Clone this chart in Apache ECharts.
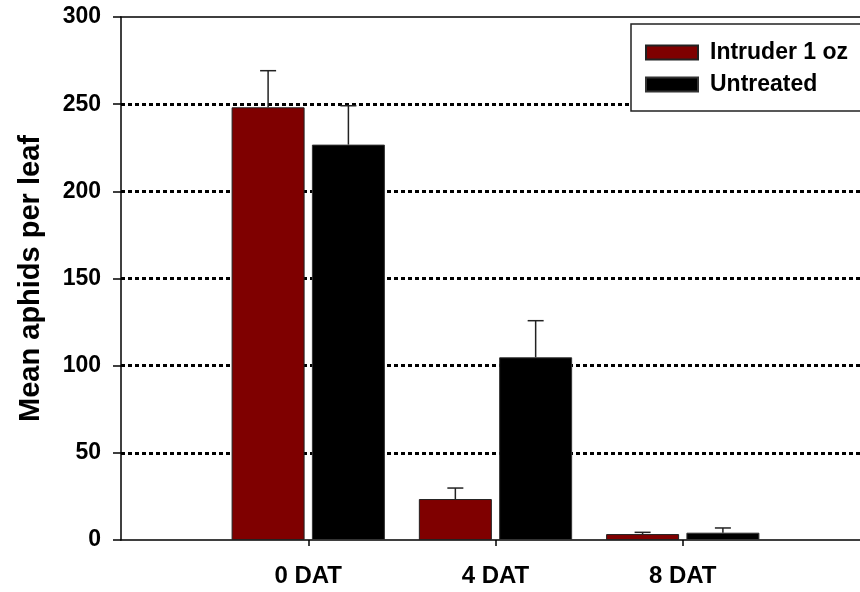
<!DOCTYPE html>
<html>
<head>
<meta charset="utf-8">
<title>Mean aphids per leaf</title>
<script src="https://cdn.jsdelivr.net/npm/echarts@6/dist/echarts.min.js"></script>
<style>
  html, body { margin: 0; padding: 0; background: #fff; }
  #chart { width: 860px; height: 592px; }
</style>
</head>
<body>
<div id="chart"></div>
<script>
// Sampling dates
const categories = ['0 DAT', '4 DAT', '8 DAT'];

// Mean aphids per leaf and the upper standard error for each treatment
const intruderMean = [248.2, 23.5, 3.4];
const intruderErr = [21.0, 6.3, 1.0];
const untreatedMean = [226.8, 104.8, 4.2];
const untreatedErr = [22.3, 21.0, 2.7];

const seriesNames = ['Intruder 1 oz', 'Untreated'];
const yTickValues = [0, 50, 100, 150, 200, 250, 300];

const FONT = "'Liberation Sans', Arial, Helvetica, sans-serif";
const BAR_WIDTH = 73;
const BAR_GAP_RATIO = 0.1;
const RED = '#7f0000';

// Empty slots at both ends keep the dates away from the axis ends
const axisCategories = [''].concat(categories, ['']);
const padSeries = arr => ['-'].concat(arr, ['-']);

// Error-bar rows: [axis index, mean, mean + error]
const errRows = (mean, err) => mean.map((m, i) => [i + 1, m, m + err[i]]);

const halfStep = (BAR_WIDTH + BAR_WIDTH * BAR_GAP_RATIO) / 2;

function errorBarRenderer(offset) {
  return function (params, api) {
    const base = api.coord([api.value(0), api.value(1)]);
    const top = api.coord([api.value(0), api.value(2)]);
    const x = base[0] + offset;
    const style = { stroke: '#222', lineWidth: 1.5 };
    return {
      type: 'group',
      children: [
        { type: 'line', shape: { x1: x, y1: base[1], x2: x, y2: top[1] }, style: style },
        { type: 'line', shape: { x1: x - 8, y1: top[1], x2: x + 8, y2: top[1] }, style: style }
      ]
    };
  };
}

const chart = echarts.init(document.getElementById('chart'), null, { renderer: 'canvas' });

chart.setOption({
  animation: false,
  backgroundColor: '#fff',
  textStyle: { fontFamily: FONT },
  grid: {
    left: 121, top: 17, right: -10, bottom: 52,
    containLabel: false,
    outerBoundsMode: 'none'
  },
  legend: {
    data: seriesNames,
    left: 631,
    top: 24,
    orient: 'vertical',
    icon: 'rect',
    itemWidth: 52,
    itemHeight: 14,
    itemGap: 9,
    padding: [17, 60, 15, 14],
    backgroundColor: '#fff',
    borderColor: '#222',
    borderWidth: 1.5,
    borderRadius: 0,
    z: 10,
    textStyle: { fontFamily: FONT, fontSize: 23, fontWeight: 'bold', color: '#000', padding: [0, 0, 0, 7] }
  },
  xAxis: [
    {
      type: 'category',
      data: axisCategories,
      boundaryGap: false,
      axisLine: { show: true, lineStyle: { color: '#000', width: 1.5 } },
      axisTick: {
        show: true,
        length: 6,
        inside: false,
        interval: (i, v) => v !== '',
        lineStyle: { color: '#000', width: 1.5 }
      },
      axisLabel: {
        interval: 0,
        margin: 24,
        fontFamily: FONT,
        fontSize: 24,
        fontWeight: 'bold',
        color: '#000'
      },
      splitLine: { show: false }
    },
    {
      // top frame line
      type: 'category',
      data: axisCategories,
      position: 'top',
      boundaryGap: false,
      axisLine: { show: true, lineStyle: { color: '#000', width: 1.5 } },
      axisTick: { show: false },
      axisLabel: { show: false },
      splitLine: { show: false }
    }
  ],
  yAxis: {
    type: 'value',
    min: yTickValues[0],
    max: yTickValues[yTickValues.length - 1],
    interval: yTickValues[1] - yTickValues[0],
    name: 'Mean aphids per leaf',
    nameLocation: 'middle',
    nameGap: 76,
    nameTextStyle: { fontFamily: FONT, fontSize: 29, fontWeight: 'bold', color: '#000' },
    axisLine: { show: true, lineStyle: { color: '#000', width: 1.5 } },
    axisTick: { show: true, length: 8, inside: false, lineStyle: { color: '#000', width: 1.5 } },
    axisLabel: {
      margin: 20,
      fontFamily: FONT,
      fontSize: 23,
      fontWeight: 'bold',
      color: '#000',
      showMaxLabel: true,
      showMinLabel: true
    },
    splitLine: {
      show: true,
      showMinLine: false,
      showMaxLine: false,
      lineStyle: { color: '#000', width: 3, type: [4, 3] }
    }
  },
  series: [
    {
      name: seriesNames[0],
      type: 'bar',
      data: padSeries(intruderMean),
      barWidth: BAR_WIDTH,
      barGap: (BAR_GAP_RATIO * 100) + '%',
      itemStyle: { color: RED, borderColor: '#222', borderWidth: 1 },
      z: 3
    },
    {
      name: seriesNames[1],
      type: 'bar',
      data: padSeries(untreatedMean),
      barWidth: BAR_WIDTH,
      barGap: (BAR_GAP_RATIO * 100) + '%',
      itemStyle: { color: '#000', borderColor: '#333', borderWidth: 1 },
      z: 3
    },
    {
      name: 'intruder-error',
      type: 'custom',
      renderItem: errorBarRenderer(-halfStep),
      data: errRows(intruderMean, intruderErr),
      encode: { x: 0, y: [1, 2] },
      z: 4,
      silent: true
    },
    {
      name: 'untreated-error',
      type: 'custom',
      renderItem: errorBarRenderer(halfStep),
      data: errRows(untreatedMean, untreatedErr),
      encode: { x: 0, y: [1, 2] },
      z: 4,
      silent: true
    }
  ]
});
</script>
</body>
</html>
